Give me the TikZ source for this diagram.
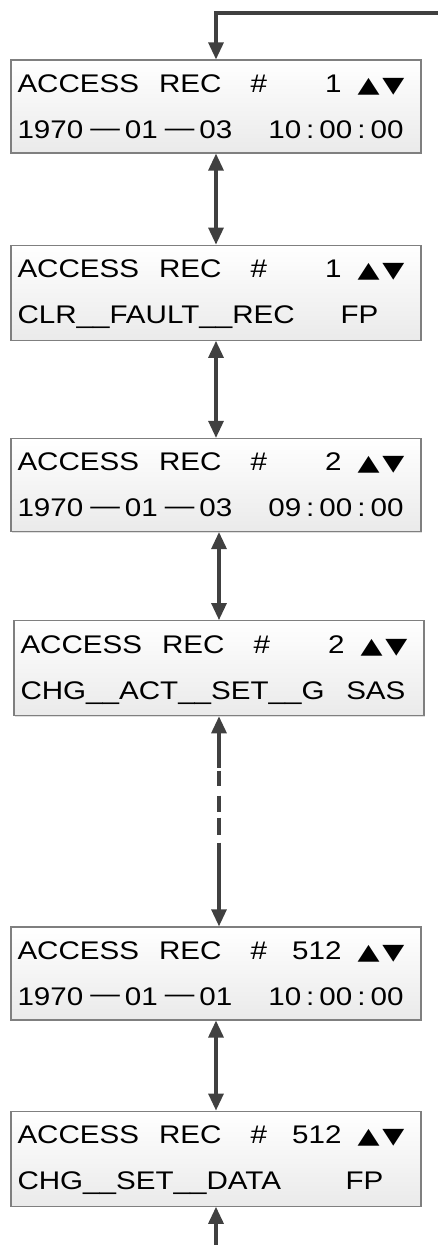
\documentclass[tikz,border=0pt]{standalone}
\usepackage{fontspec}
\setmainfont{Liberation Sans}[FakeStretch=1.16]
\newfontfamily\symfont{DejaVu Sans}[FakeStretch=1.3]
\usetikzlibrary{arrows.meta,positioning,shadows}
\definecolor{Wire}{HTML}{404040}
\definecolor{Frame}{HTML}{7F7F7F}
\definecolor{Panel}{HTML}{EAEAEA}
\newcommand{\updown}{{\symfont\fontsize{22pt}{46pt}\selectfont ▲\hspace{3pt}▼}\hspace{10pt}\mbox{}}
\newcommand{\dsep}{\hspace{7pt}\raisebox{2.5pt}{—}\hspace{5pt}}
\newcommand{\tsep}{\hspace{5pt}:\hspace{5pt}}
\tikzset{
  screen/.style={
    draw=Frame, line width=1.2pt, top color=white, bottom color=Panel,
    drop shadow={shadow xshift=1.2pt, shadow yshift=-1.2pt, opacity=0.25},
    minimum width=410pt, inner xsep=6.5pt, inner ysep=11.5pt,
    text width=397pt, align=left, font=\fontsize{25.5pt}{46pt}\selectfont,
    execute at begin node=\rule{0pt}{21pt},
    execute at end node=\rule[-3pt]{0pt}{3pt}
  },
  link/.style={{Triangle[length=17pt,width=15pt]}-{Triangle[length=17pt,width=15pt]},
    line width=3.2pt, draw=Wire},
  feed/.style={-{Triangle[length=17pt,width=15pt]}, line width=3.2pt, draw=Wire}
}

\begin{document}
\begin{tikzpicture}
  \useasboundingbox (0,0) rectangle (438pt,-1245pt);
  \node[screen] at (216pt,-106.5pt) (rec1)
    {ACCESS\hspace{20pt}REC\hspace{29pt}\#\hfill 1\hspace{16pt}\updown\\
     1970\dsep 01\dsep 03\hfill 10\tsep 00\tsep 00\hspace*{11pt}};
  \node[screen,below=91pt of rec1] (rec2)
    {ACCESS\hspace{20pt}REC\hspace{29pt}\#\hfill 1\hspace{16pt}\updown\\
     CLR\_\_FAULT\_\_REC\hfill FP\hspace*{36pt}};
  \node[screen,below=97pt of rec2] (rec3)
    {ACCESS\hspace{20pt}REC\hspace{29pt}\#\hfill 2\hspace{16pt}\updown\\
     1970\dsep 01\dsep 03\hfill 09\tsep 00\tsep 00\hspace*{11pt}};
  \node[screen,below=88pt of rec3,xshift=3pt] (rec4)
    {ACCESS\hspace{20pt}REC\hspace{29pt}\#\hfill 2\hspace{16pt}\updown\\
     CHG\_\_ACT\_\_SET\_\_G\hfill SAS\hspace*{12pt}};
  \node[screen,below=210pt of rec4,xshift=-3pt] (rec5)
    {ACCESS\hspace{20pt}REC\hspace{29pt}\#\hfill 512\hspace{16pt}\updown\\
     1970\dsep 01\dsep 01\hfill 10\tsep 00\tsep 00\hspace*{11pt}};
  \node[screen,below=90pt of rec5] (rec6)
    {ACCESS\hspace{20pt}REC\hspace{29pt}\#\hfill 512\hspace{16pt}\updown\\
     CHG\_\_SET\_\_DATA\hfill FP\hspace*{31pt}};

  \coordinate (entry) at (438pt,-13pt);
  \coordinate (exit) at ([yshift=-56pt]rec6.south);
  \draw[feed] (entry) -| (rec1.north);
  \draw[link] (rec1.south) -- (rec2.north);
  \draw[link] (rec2.south) -- (rec3.north);
  \draw[link] (rec3.south -| rec4.north) -- (rec4.north);
  \draw[link,dash pattern=on 35pt off 3pt on 15pt off 10pt on 16pt off 6pt on 17pt off 8pt on 120pt]
    (rec4.south) -- (rec4.south |- rec5.north);
  \draw[link] (rec5.south) -- (rec6.north);
  \draw[feed] (exit) -- (rec6.south);
\end{tikzpicture}
\end{document}
